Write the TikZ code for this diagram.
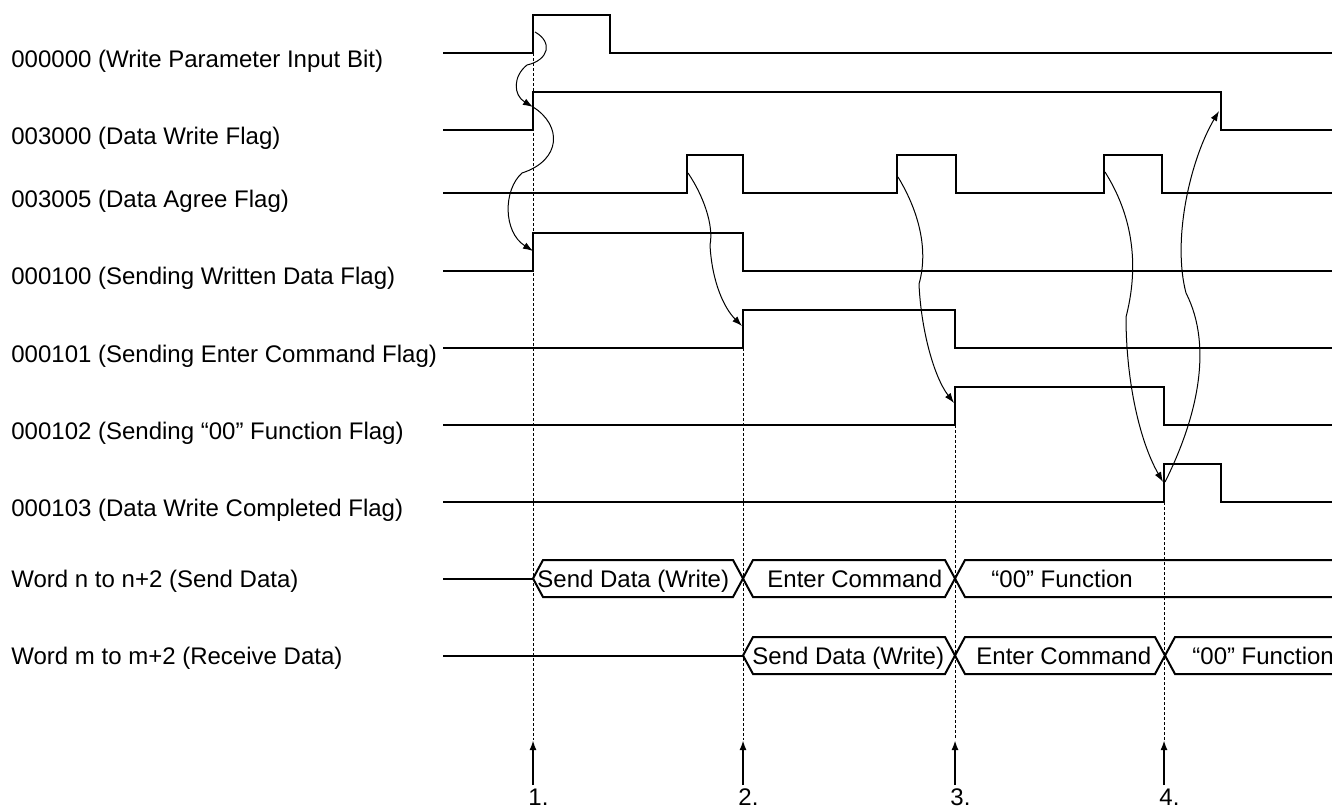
\documentclass[tikz,border=0pt]{standalone}
\usepackage{fontspec}
\setmainfont{Liberation Sans}
\usetikzlibrary{arrows.meta}

\begin{document}
\begin{tikzpicture}[
  x=0.5pt, y=-0.5pt,
  font=\fontsize{12}{14}\selectfont,
  sig/.style={line width=1pt, line join=miter},
  bus/.style={line width=1pt},
  cause/.style={line width=0.5pt, -{Latex[length=5pt,width=3.5pt]}},
  guide/.style={line width=0.5pt, dash pattern=on 1.5pt off 1pt},
  tick/.style={line width=1pt, -{Latex[length=5pt,width=3.5pt]}},
  lbl/.style={anchor=base west, inner sep=0pt},
  num/.style={anchor=base west, inner sep=0pt}
]
\useasboundingbox (0,0) rectangle (1332,809);

% signal names
\node[lbl] (l1) at (11,67)  {000000 (Write Parameter Input Bit)};
\node[lbl] (l2) at (11,144) {003000 (Data Write Flag)};
\node[lbl] (l3) at (11,207) {003005 (Data Agree Flag)};
\node[lbl] (l4) at (11,284) {000100 (Sending Written Data Flag)};
\node[lbl] (l5) at (11,362) {000101 (Sending Enter Command Flag)};
\node[lbl] (l6) at (11,439) {000102 (Sending “00” Function Flag)};
\node[lbl] (l7) at (11,516) {000103 (Data Write Completed Flag)};
\node[lbl] (l8) at (11,587) {Word n to n+2 (Send Data)};
\node[lbl] (l9) at (11,664) {Word m to m+2 (Receive Data)};

% waveforms
\draw[sig] (443,53) -- (533,53) -- (533,15) -- (610,15) -- (610,53) -- (1332,53);
\draw[sig] (443,130) -- (533,130) -- (533,92) -- (1221,92) -- (1221,130) -- (1332,130);
\draw[sig] (443,193) -- (687,193) -- (687,155) -- (743,155) -- (743,193)
  -- (897,193) -- (897,155) -- (956,155) -- (956,193)
  -- (1104,193) -- (1104,155) -- (1162,155) -- (1162,193) -- (1332,193);
\draw[sig] (443,271) -- (533,271) -- (533,233) -- (743,233) -- (743,271) -- (1332,271);
\draw[sig] (443,348) -- (743,348) -- (743,310) -- (955,310) -- (955,348) -- (1332,348);
\draw[sig] (443,425) -- (955,425) -- (955,387) -- (1164,387) -- (1164,425) -- (1332,425);
\draw[sig] (443,502) -- (1164,502) -- (1164,464) -- (1221,464) -- (1221,502) -- (1332,502);

% send data bus
\draw[bus] (443,578.5) -- (533,578.5);
\draw[bus] (533,578.5) -- (543,560) -- (733,560) -- (753,597) -- (945,597) -- (965,560) -- (1332,560);
\draw[bus] (533,578.5) -- (543,597) -- (733,597) -- (753,560) -- (945,560) -- (965,597) -- (1332,597);
\node[lbl] (s1) at (537,587) {Send Data (Write)};
\node[lbl] (s2) at (767,587) {Enter Command};
\node[lbl] (s3) at (991,587) {“00” Function};

% receive data bus
\draw[bus] (443,655.5) -- (743,655.5);
\draw[bus] (743,655.5) -- (753,637) -- (945,637) -- (965,674) -- (1155,674) -- (1175,637) -- (1332,637);
\draw[bus] (743,655.5) -- (753,674) -- (945,674) -- (965,637) -- (1155,637) -- (1175,674) -- (1332,674);
\node[lbl] (r1) at (752,664) {Send Data (Write)};
\node[lbl] (r2) at (976,664) {Enter Command};
\node[lbl] (r3) at (1192,664) {“00” Function};

% edges the arrows start and end at
\coordinate (e1) at (535,32);
\coordinate (e2) at (533,107);
\coordinate (e4) at (533,251);
\coordinate (a1) at (688,173);
\coordinate (e5) at (742,326);
\coordinate (a2) at (898,177);
\coordinate (e6) at (954,403);
\coordinate (a3) at (1105,172);
\coordinate (e7) at (1163,482);
\coordinate (c7) at (1165,482);
\coordinate (f2) at (1219,111);

% cause and effect
\draw[cause] (e1) .. controls (553,42) and (549,60) .. (527,65) .. controls (513,76) and (513,95) .. (e2);
\draw[cause] (e2) .. controls (562,125) and (562,160) .. (522,173) .. controls (503,190) and (503,232) .. (e4);
\draw[cause] (a1) .. controls (703,195) and (714,225) .. (710,245) .. controls (712,282) and (724,308) .. (e5);
\draw[cause] (a2) .. controls (915,205) and (930,245) .. (919,284) .. controls (921,330) and (934,377) .. (e6);
\draw[cause] (a3) .. controls (1127,207) and (1142,255) .. (1126,317) .. controls (1126,382) and (1140,442) .. (e7);
\draw[cause] (c7) .. controls (1196,420) and (1214,348) .. (1186,293) .. controls (1172,240) and (1190,160) .. (f2);

% timing points
\draw[guide] (533,53) -- (533,740);
\draw[guide] (743,348) -- (743,740);
\draw[guide] (955,425) -- (955,740);
\draw[guide] (1164,502) -- (1164,740);

\coordinate (t1) at (533,740);
\coordinate (t2) at (743,740);
\coordinate (t3) at (955,740);
\coordinate (t4) at (1164,740);
\coordinate (b1) at (533,785);
\coordinate (b2) at (743,785);
\coordinate (b3) at (955,785);
\coordinate (b4) at (1164,785);
\draw[tick] (b1) -- (t1);
\draw[tick] (b2) -- (t2);
\draw[tick] (b3) -- (t3);
\draw[tick] (b4) -- (t4);
\node[num] (n1) at (528,805) {1.};
\node[num] (n2) at (738,805) {2.};
\node[num] (n3) at (950,805) {3.};
\node[num] (n4) at (1159,805) {4.};
\end{tikzpicture}
\end{document}
